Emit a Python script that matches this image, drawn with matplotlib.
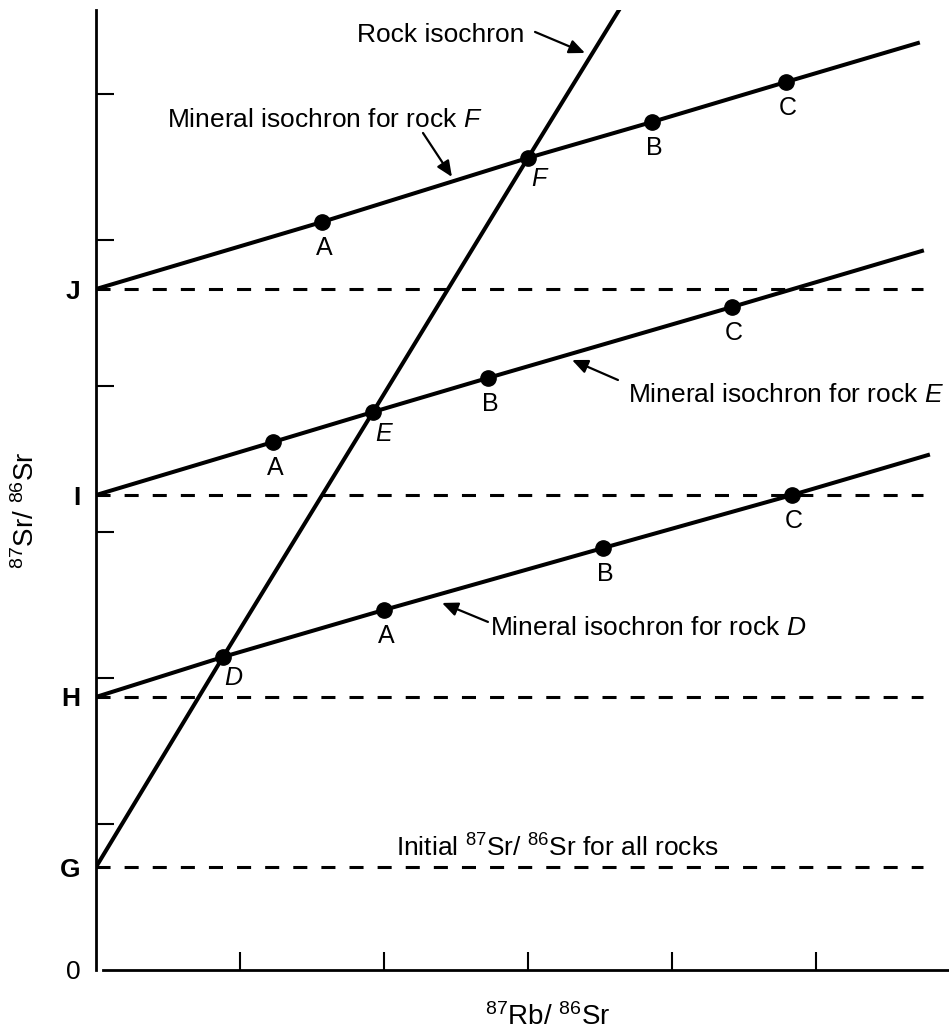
import numpy as np
import matplotlib
matplotlib.use("Agg")
import matplotlib.pyplot as plt

plt.rcParams['font.family'] = ['Liberation Sans', 'DejaVu Sans']
plt.rcParams['mathtext.fontset'] = 'custom'
plt.rcParams['mathtext.rm'] = 'Liberation Sans'
plt.rcParams['mathtext.it'] = 'Liberation Sans:italic'

# initial 87Sr/86Sr values at x = 0
initial_labels = ['G', 'H', 'I', 'J']
initial_values = [0.705, 1.87, 3.253, 4.664]

# whole-rock points D, E, F and the rock isochron
rock_names = ['D', 'E', 'F']
rock_x = [0.882, 1.924, 3.0]
rock_y = [2.144, 3.822, 5.562]
rock_line_x = [0.0, 0.882, 1.924, 3.0, 3.632]
rock_line_y = [0.705, 2.144, 3.822, 5.562, 6.575]

# minerals A, B, C for each rock
mineral_names = ['A', 'B', 'C']
minD_x = [2.0, 3.521, 4.833]
minD_y = [2.466, 2.890, 3.253]
minE_x = [1.229, 2.722, 4.417]
minE_y = [3.616, 4.055, 4.541]
minF_x = [1.569, 3.861, 4.792]
minF_y = [5.123, 5.808, 6.082]

# mineral isochron lines (start at initial value, end at right)
lineD_x = [0.0, 0.882, 2.0, 3.521, 4.833, 5.778]
lineD_y = [1.87, 2.144, 2.466, 2.890, 3.253, 3.527]
lineE_x = [0.0, 1.229, 1.924, 2.722, 4.417, 5.736]
lineE_y = [3.253, 3.616, 3.822, 4.055, 4.541, 4.925]
lineF_x = [0.0, 1.569, 3.0, 3.861, 4.792, 5.708]
lineF_y = [4.664, 5.123, 5.562, 5.808, 6.082, 6.349]

dash_end = 5.743
xmax = 5.924
ymax = 6.575

fig = plt.figure(figsize=(9.49, 10.32), dpi=100)
ax = fig.add_axes([0.10116, 0.06008, 0.89884, 0.9302])
ax.set_xlim(0, xmax)
ax.set_ylim(0, ymax)

for v in initial_values:
    ax.plot([0, dash_end], [v, v], color='black', lw=2.2, dashes=(4.6, 4.6),
            solid_capstyle='butt', dash_capstyle='butt', zorder=2)

lw = 2.9
ax.plot(rock_line_x, rock_line_y, color='black', lw=lw, zorder=3)
for lx, ly in [(lineD_x, lineD_y), (lineE_x, lineE_y), (lineF_x, lineF_y)]:
    ax.plot(lx, ly, color='black', lw=lw, zorder=3)

ms = 11
ax.plot(rock_x, rock_y, 'o', color='black', ms=ms, zorder=4)
for mx, my in [(minD_x, minD_y), (minE_x, minE_y), (minF_x, minF_y)]:
    ax.plot(mx, my, 'o', color='black', ms=ms, zorder=4)
    for name, x, y in zip(mineral_names, mx, my):
        ax.annotate(name, (x, y), xytext=(1.5, -18.7), textcoords='offset points',
                    ha='center', va='center', fontsize=18)

for name, x, y in zip(rock_names, rock_x, rock_y):
    ax.annotate(name, (x, y), xytext=(7.5, -15.5), textcoords='offset points',
                ha='center', va='center', fontsize=18, style='italic')

# text labels and arrows
fs = 19
ax.text(2.396, 6.356, 'Rock isochron', ha='center', va='baseline', fontsize=fs)
ax.text(1.590, 5.774, 'Mineral isochron for rock $\\mathit{F}$', ha='center',
        va='baseline', fontsize=fs)
ax.text(3.694, 3.890, 'Mineral isochron for rock $\\mathit{E}$', ha='left',
        va='baseline', fontsize=fs)
ax.text(2.736, 2.295, 'Mineral isochron for rock $\\mathit{D}$', ha='left',
        va='baseline', fontsize=fs)
ax.text(2.083, 0.774, 'Initial $^{87}$Sr/ $^{86}$Sr for all rocks', ha='left',
        va='baseline', fontsize=fs)

arrows = [((3.049, 6.425), (3.396, 6.281)),
          ((2.271, 5.733), (2.472, 5.432)),
          ((3.625, 4.041), (3.306, 4.178)),
          ((2.722, 2.384), (2.403, 2.514))]
for tail, head in arrows:
    ax.annotate('', xy=head, xytext=tail,
                arrowprops=dict(arrowstyle='-|>,head_length=0.5,head_width=0.22',
                                color='black', lw=1.6, shrinkA=0, shrinkB=0,
                                mutation_scale=fs))

# axes styling
for s in ['top', 'right']:
    ax.spines[s].set_visible(False)
ax.spines['left'].set_linewidth(2.0)
ax.spines['bottom'].set_linewidth(2.0)
ax.spines['bottom'].set_bounds(0.05, xmax)

ax.set_xticks([1, 2, 3, 4, 5])
ax.set_yticks([1, 2, 3, 4, 5, 6])
ax.tick_params(which='major', direction='in', length=13, width=1.5,
               labelleft=False, labelbottom=False)
ax.set_yticks([0] + initial_values, minor=True)
ax.set_yticklabels(['0'] + initial_labels, minor=True, fontsize=19)
ax.tick_params(axis='y', which='minor', length=0, pad=11)
for lab in ax.get_yticklabels(minor=True)[1:]:
    lab.set_fontweight('bold')
ax.tick_params(axis='x', which='minor', bottom=False)

ax.set_xlabel('$^{87}$Rb/ $^{86}$Sr', fontsize=20, va='baseline')
ax.xaxis.set_label_coords((548 - 96) / 853, (970 - 1025) / 960)
ax.set_ylabel('$^{87}$Sr/ $^{86}$Sr', fontsize=20, va='center')
ax.yaxis.set_label_coords((26 - 96) / 853, (970 - 510) / 960)

fig.savefig('out.png', dpi=100)
